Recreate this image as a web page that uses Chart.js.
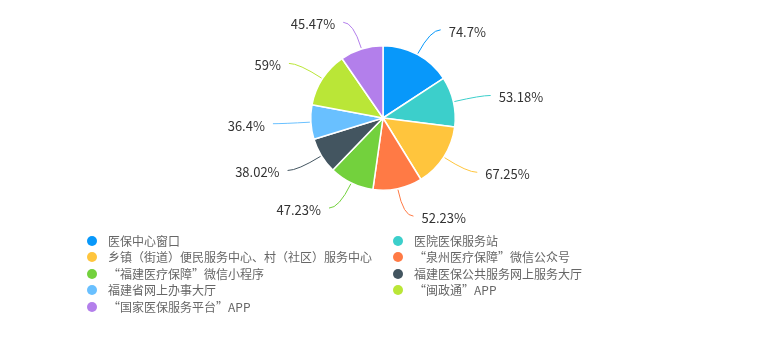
<!DOCTYPE html>
<html><head><meta charset="utf-8">
<script src="https://cdn.jsdelivr.net/npm/chart.js@4"></script>
<style>
html,body{margin:0;padding:0;background:#fff;}
#wrap{position:relative;width:766px;height:340px;}
#c{position:absolute;left:0;top:0;}
#legend{position:absolute;left:0;top:0;width:766px;height:340px;pointer-events:none;
 font-family:"Noto Sans CJK SC",sans-serif;font-size:12px;color:#666;}
.li{position:absolute;height:16px;line-height:16px;white-space:nowrap;}
.li i{position:absolute;left:-21px;top:3px;width:10px;height:10px;border-radius:50%;}
.fw{display:inline-block;width:12px;text-align:center;}
.fl{display:inline-block;width:12px;text-align:left;}
</style></head>
<body><div id="wrap"><canvas id="c" width="766" height="340"></canvas><div id="legend"></div></div>
<script>
const categories = ["医保中心窗口","医院医保服务站","乡镇（街道）便民服务中心、村（社区）服务中心","“泉州医疗保障”微信公众号","“福建医疗保障”微信小程序","福建医保公共服务网上服务大厅","福建省网上办事大厅","“闽政通”APP","“国家医保服务平台”APP"];
const values = [74.7,53.18,67.25,52.23,47.23,38.02,36.4,59,45.47];
const valueLabels = ["74.7%","53.18%","67.25%","52.23%","47.23%","38.02%","36.4%","59%","45.47%"];
const colors = ["#0898FA","#3CCFCB","#FFC53D","#FF7A45","#73D13D","#435560","#69C0FF","#BAE637","#B37FEB"];

const labelPlugin = {
  id:'outLabels',
  afterDatasetsDraw(chart){
    const ctx = chart.ctx;
    const meta = chart.getDatasetMeta(0);
    ctx.save();
    ctx.font = '13px "Noto Sans CJK SC","Noto Sans",sans-serif';
    meta.data.forEach((arc,i)=>{
      const p = arc.getProps(['x','y','startAngle','endAngle','outerRadius'],true);
      const a = (p.startAngle+p.endAngle)/2;
      const r = p.outerRadius;
      const cos=Math.cos(a), sin=Math.sin(a);
      const sx = p.x + cos*(r+1), sy = p.y + sin*(r+1);
      const cx = p.x + cos*(r+28), cy = p.y + sin*(r+28);
      const dir = cos>=0?1:-1;
      const ex = cx + dir*10, ey = cy;
      ctx.strokeStyle = colors[i];
      ctx.lineWidth = 1;
      ctx.beginPath();
      ctx.moveTo(sx,sy);
      ctx.quadraticCurveTo(cx,cy,ex,ey);
      ctx.stroke();
      ctx.fillStyle = '#333';
      ctx.textBaseline = 'middle';
      ctx.textAlign = dir>0?'left':'right';
      ctx.fillText(valueLabels[i], ex + dir*8, ey + 2);
    });
    ctx.restore();
  }
};

new Chart(document.getElementById('c'),{
  type:'pie',
  data:{labels:categories,datasets:[{data:values,backgroundColor:colors,borderColor:'#fff',borderWidth:1.5}]},
  options:{
    responsive:false,animation:false,
    layout:{padding:{top:45,bottom:149,left:0,right:0}},
    plugins:{legend:{display:false},tooltip:{enabled:false}}
  },
  plugins:[labelPlugin]
});

const lg = document.getElementById('legend');
categories.forEach((name,i)=>{
  const col = i%2, row = Math.floor(i/2);
  const d = document.createElement('div');
  d.className='li';
  d.style.left = (col===0?108:414)+'px';
  d.style.top = (233 + row*16.4)+'px';
  const dot = document.createElement('i');
  dot.style.background = colors[i];
  d.appendChild(dot);
  let html = '';
  for (const ch of name) {
    if (ch==='（' || ch==='）') html += '<span class="fw">'+ch+'</span>';
    else if (ch==='、') html += '<span class="fl">'+ch+'</span>';
    else html += ch;
  }
  d.insertAdjacentHTML('beforeend', html);
  lg.appendChild(d);
});
</script></body></html>
